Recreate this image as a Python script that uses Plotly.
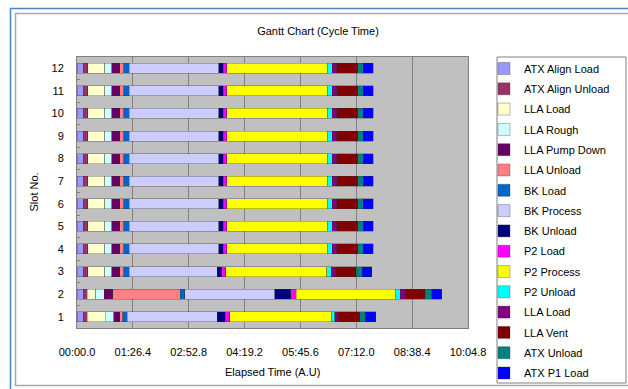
import plotly.graph_objects as go

# Slots (bottom to top) and the phases of one cycle, in processing order
slots = ["1", "2", "3", "4", "5", "6", "7", "8", "9", "10", "11", "12"]

phase_names = [
    "ATX Align Load", "ATX Align Unload", "LLA Load", "LLA Rough",
    "LLA Pump Down", "LLA Unload", "BK Load", "BK Process", "BK Unload",
    "P2 Load", "P2 Process", "P2 Unload", "LLA Load", "LLA Vent",
    "ATX Unload", "ATX P1 Load",
]
phase_colors = [
    "#9999FF", "#993366", "#FFFFCC", "#CCFFFF", "#660066", "#FF8080",
    "#0066CC", "#CCCCFF", "#000080", "#FF00FF", "#FFFF00", "#00FFFF",
    "#800080", "#800000", "#008080", "#0000FF",
]

# Phase durations in seconds, one value per slot (slot 1 ... slot 12)
atx_align_load   = [10, 10, 10, 10, 10, 10, 10, 10, 10, 10, 10, 10]
atx_align_unload = [6, 6, 7, 7, 7, 7, 7, 7, 7, 7, 7, 7]
lla_load_in      = [28, 13, 26, 26, 26, 26, 26, 26, 26, 26, 26, 26]
lla_rough        = [13, 13, 11, 11, 11, 11, 11, 11, 11, 11, 11, 11]
lla_pump_down    = [9, 13, 12, 12, 12, 12, 12, 12, 12, 12, 12, 12]
lla_unload       = [5, 105, 6, 6, 6, 6, 6, 6, 6, 6, 6, 6]
bk_load          = [7, 7, 9, 9, 9, 9, 9, 9, 9, 9, 9, 9]
bk_process       = [139, 139, 136, 138, 138, 138, 138, 138, 138, 138, 138, 138]
bk_unload        = [12, 25, 7, 7, 7, 7, 7, 7, 7, 7, 7, 7]
p2_load          = [7, 8, 6, 6, 6, 6, 6, 6, 6, 6, 6, 6]
p2_process       = [158, 153, 156, 156, 156, 156, 156, 156, 156, 156, 156, 156]
p2_unload        = [5, 8, 7, 7, 7, 7, 7, 7, 7, 7, 7, 7]
lla_load_out     = [5, 8, 7, 7, 7, 7, 7, 7, 7, 7, 7, 7]
lla_vent         = [33, 31, 32, 32, 32, 32, 32, 32, 32, 32, 32, 32]
atx_unload       = [9, 10, 9, 9, 9, 9, 9, 9, 9, 9, 9, 9]
atx_p1_load      = [16, 15, 15, 15, 15, 15, 15, 15, 15, 15, 15, 15]

# Time axis (seconds) and its mm:ss.s labels
x_tick_values = [0, 86.4, 172.8, 259.2, 345.6, 432.0, 518.4, 604.8]
x_tick_labels = ["00:00.0", "01:26.4", "02:52.8", "04:19.2",
                 "05:45.6", "07:12.0", "08:38.4", "10:04.8"]

phase_values = [
    atx_align_load, atx_align_unload, lla_load_in, lla_rough, lla_pump_down,
    lla_unload, bk_load, bk_process, bk_unload, p2_load, p2_process,
    p2_unload, lla_load_out, lla_vent, atx_unload, atx_p1_load,
]

FONT = "Liberation Sans, Arial, sans-serif"
W, H = 628, 389
PLOT_L, PLOT_R, PLOT_T, PLOT_B = 77, 468, 57, 328


def px_x(px):
    return (px - PLOT_L) / (PLOT_R - PLOT_L)


def px_y(py):
    return (PLOT_B - py) / (PLOT_B - PLOT_T)


fig = go.Figure()
for i, (name, color, vals) in enumerate(zip(phase_names, phase_colors, phase_values)):
    fig.add_trace(go.Bar(
        y=slots, x=vals, name=name, orientation="h",
        marker=dict(color=color, line=dict(color="rgba(50,50,50,0.55)", width=0.6)),
        legendgroup=f"g{i}",
    ))

# Outer chart frame
shapes = [
    dict(type="rect", xref="paper", yref="paper",
         x0=px_x(15.5), x1=px_x(640), y0=px_y(13.5), y1=px_y(385.5),
         line=dict(color="#a8a8a8", width=1.5)),
    dict(type="line", xref="paper", yref="paper",
         x0=px_x(10.5), x1=px_x(10.5), y0=px_y(8), y1=px_y(395),
         line=dict(color="#4a86c5", width=1.5)),
    dict(type="line", xref="paper", yref="paper",
         x0=px_x(10), x1=px_x(640), y0=px_y(8.5), y1=px_y(8.5),
         line=dict(color="#4a86c5", width=1.5)),
    # legend box
    dict(type="rect", xref="paper", yref="paper",
         x0=px_x(497), x1=px_x(626), y0=px_y(57), y1=px_y(383),
         line=dict(color="#808080", width=1), fillcolor="white", layer="below"),
]

annotations = [
    dict(text="Elapsed Time (A.U)", xref="paper", yref="paper",
         x=0.5, y=px_y(372), xanchor="center", yanchor="middle",
         showarrow=False, font=dict(family=FONT, size=11, color="black")),
    dict(text="Slot No.", xref="paper", yref="paper", textangle=-90,
         x=px_x(33), y=0.5, xanchor="center", yanchor="middle",
         showarrow=False, font=dict(family=FONT, size=11, color="black")),
]

fig.update_layout(
    width=W, height=H,
    margin=dict(l=PLOT_L, r=W - PLOT_R, t=PLOT_T, b=H - PLOT_B),
    paper_bgcolor="white", plot_bgcolor="#C0C0C0",
    barmode="stack", bargap=0.56,
    font=dict(family=FONT, size=11, color="black"),
    title=dict(text="Gantt Chart (Cycle Time)", xref="container", yref="container",
               x=318 / W, y=1 - 31 / H, xanchor="center", yanchor="middle",
               font=dict(family=FONT, size=11, color="black")),
    legend=dict(x=px_x(484), y=px_y(54), xanchor="left", yanchor="top",
                traceorder="grouped", tracegroupgap=1.3, maxheight=380,
                bgcolor="rgba(0,0,0,0)", borderwidth=0,
                font=dict(family=FONT, size=11, color="black")),
    shapes=shapes, annotations=annotations,
)

fig.update_xaxes(
    range=[0, 604.8], tickvals=x_tick_values, ticktext=x_tick_labels,
    showgrid=True, gridcolor="#808080", gridwidth=1,
    ticks="inside", ticklen=3, tickcolor="#808080",
    showline=True, linecolor="#808080", linewidth=1, mirror=True,
    zeroline=False, ticklabelstandoff=14,
    tickfont=dict(family=FONT, size=11, color="black"),
)
fig.update_yaxes(
    type="category", categoryorder="array", categoryarray=slots,
    tickson="boundaries", ticks="inside", ticklen=3, tickcolor="#808080",
    showgrid=False, showline=True, linecolor="#808080", linewidth=1, mirror=True,
    ticklabelstandoff=10,
    tickfont=dict(family=FONT, size=11, color="black"),
)

fig.write_html("out.html")
